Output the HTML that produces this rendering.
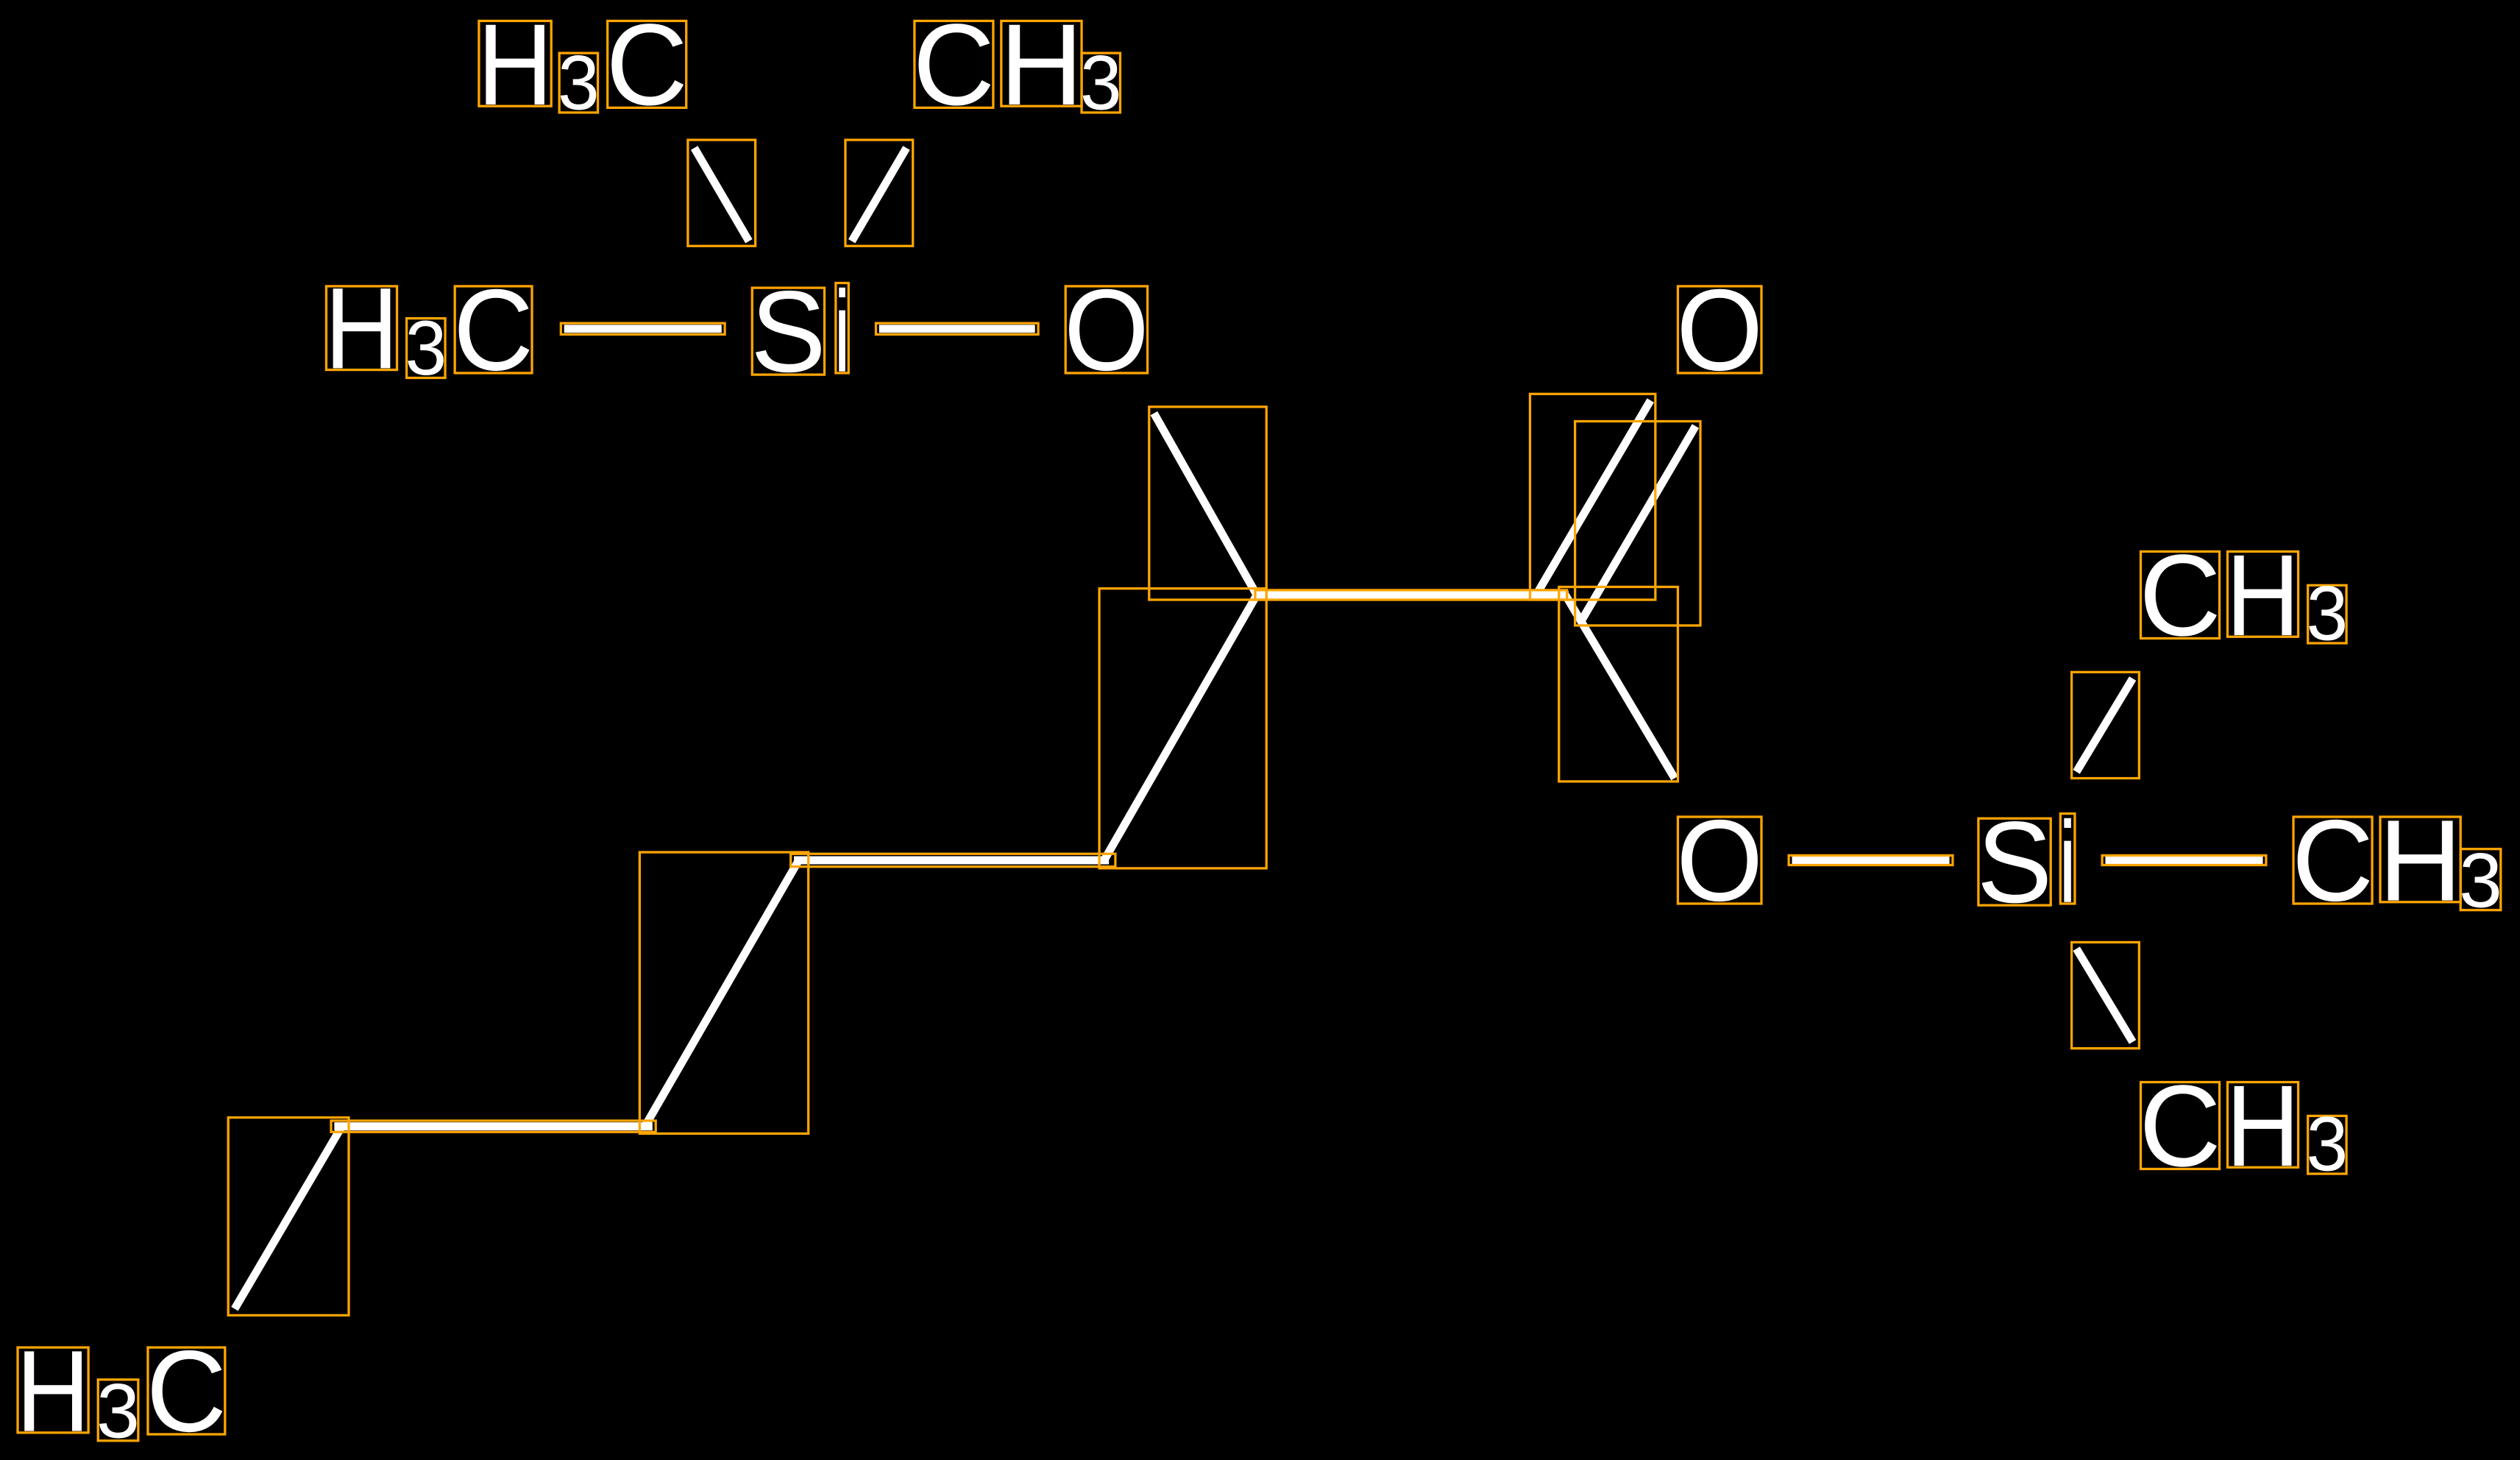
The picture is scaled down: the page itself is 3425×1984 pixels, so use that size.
<!DOCTYPE html>
<html><head><style>html,body{margin:0;padding:0;background:#000;}svg{display:block}</style></head>
<body>
<svg width="3425" height="1984" viewBox="0 0 1568 908" preserveAspectRatio="none" xmlns="http://www.w3.org/2000/svg">
<rect width="1568" height="908" fill="#000"/>
<g stroke="#fff" stroke-width="5" stroke-linecap="butt" fill="none">
<line x1="432" y1="92" x2="466" y2="150"/>
<line x1="564" y1="92" x2="530" y2="150"/>
<line x1="351" y1="204.5" x2="449" y2="204.5"/>
<line x1="547" y1="204.5" x2="644" y2="204.5"/>
<line x1="718" y1="257" x2="782" y2="370"/>
<line x1="782" y1="370" x2="687" y2="535"/>
<line x1="780" y1="370" x2="976" y2="370"/>
<line x1="957" y1="368" x2="1027" y2="249"/>
<line x1="984" y1="386" x2="1055" y2="265"/>
<line x1="974" y1="370" x2="1042" y2="484"/>
<line x1="494" y1="535" x2="690" y2="535"/>
<line x1="401" y1="701" x2="497" y2="535"/>
<line x1="208" y1="700.5" x2="406" y2="700.5"/>
<line x1="146" y1="814" x2="213" y2="700"/>
<line x1="1327" y1="422" x2="1292" y2="480"/>
<line x1="1115" y1="535" x2="1213" y2="535"/>
<line x1="1310" y1="535" x2="1408" y2="535"/>
<line x1="1292" y1="590" x2="1327" y2="648"/>
</g>
<g stroke="#ffa500" stroke-width="1.5" fill="none">
<rect x="298" y="13" width="45" height="53"/><rect x="348" y="33" width="24" height="37"/><rect x="378" y="13" width="49" height="54"/>
<rect x="569" y="13" width="49" height="54"/><rect x="623" y="13" width="50" height="53"/><rect x="673" y="33" width="24" height="37"/>
<rect x="428" y="87" width="42" height="66"/><rect x="526" y="87" width="42" height="66"/>
<rect x="203" y="178" width="44" height="52"/><rect x="253" y="198" width="24" height="37"/><rect x="283" y="178" width="48" height="54"/>
<rect x="349" y="201" width="102" height="7"/>
<rect x="468" y="179" width="45" height="54"/><rect x="520" y="176" width="8" height="56"/>
<rect x="545" y="201" width="101" height="7"/>
<rect x="663" y="178" width="51" height="54"/>
<rect x="1044" y="178" width="52" height="54"/>
<rect x="715" y="253" width="73" height="120"/>
<rect x="684" y="366" width="104" height="174"/>
<rect x="781" y="367" width="194" height="6"/>
<rect x="952" y="245" width="78" height="128"/>
<rect x="980" y="262" width="78" height="127"/>
<rect x="970" y="365" width="74" height="121"/>
<rect x="492" y="531" width="202" height="8"/>
<rect x="398" y="530" width="105" height="175"/>
<rect x="206" y="697" width="202" height="7"/>
<rect x="142" y="695" width="75" height="123"/>
<rect x="11" y="838" width="44" height="53"/><rect x="61" y="858" width="25" height="38"/><rect x="92" y="838" width="48" height="54"/>
<rect x="1332" y="343" width="49" height="54"/><rect x="1386" y="343" width="44" height="53"/><rect x="1436" y="364" width="24" height="36"/>
<rect x="1289" y="418" width="42" height="66"/>
<rect x="1044" y="508" width="52" height="54"/>
<rect x="1113" y="532" width="102" height="6"/>
<rect x="1231" y="509" width="45" height="54"/><rect x="1282" y="506" width="9" height="56"/>
<rect x="1308" y="532" width="102" height="6"/>
<rect x="1427" y="508" width="49" height="54"/><rect x="1481" y="508" width="50" height="53"/><rect x="1531" y="528" width="25" height="38"/>
<rect x="1289" y="586" width="42" height="66"/>
<rect x="1332" y="673" width="49" height="54"/><rect x="1386" y="673" width="44" height="53"/><rect x="1436" y="694" width="24" height="36"/>
</g>
<g fill="#fff" font-family="Liberation Sans, Arial, sans-serif" font-size="72">
<text x="297" y="65" textLength="47" lengthAdjust="spacingAndGlyphs">H</text>
<text x="347" y="68" font-size="48" textLength="26" lengthAdjust="spacingAndGlyphs">3</text>
<text x="377" y="65" textLength="51" lengthAdjust="spacingAndGlyphs">C</text>
<text x="568" y="65" textLength="51" lengthAdjust="spacingAndGlyphs">C</text>
<text x="622" y="65" textLength="52" lengthAdjust="spacingAndGlyphs">H</text>
<text x="672" y="68" font-size="48" textLength="26" lengthAdjust="spacingAndGlyphs">3</text>
<text x="202" y="229" textLength="46" lengthAdjust="spacingAndGlyphs">H</text>
<text x="252" y="233" font-size="48" textLength="26" lengthAdjust="spacingAndGlyphs">3</text>
<text x="282" y="230" textLength="50" lengthAdjust="spacingAndGlyphs">C</text>
<text x="467" y="231" textLength="47" lengthAdjust="spacingAndGlyphs">S</text>
<text x="519" y="231" textLength="10" lengthAdjust="spacingAndGlyphs">i</text>
<text x="662" y="230" textLength="53" lengthAdjust="spacingAndGlyphs">O</text>
<text x="1043" y="230" textLength="54" lengthAdjust="spacingAndGlyphs">O</text>
<text x="10" y="890" textLength="46" lengthAdjust="spacingAndGlyphs">H</text>
<text x="60" y="894" font-size="48" textLength="27" lengthAdjust="spacingAndGlyphs">3</text>
<text x="91" y="890" textLength="50" lengthAdjust="spacingAndGlyphs">C</text>
<text x="1331" y="395" textLength="51" lengthAdjust="spacingAndGlyphs">C</text>
<text x="1385" y="395" textLength="46" lengthAdjust="spacingAndGlyphs">H</text>
<text x="1435" y="398" font-size="48" textLength="26" lengthAdjust="spacingAndGlyphs">3</text>
<text x="1043" y="560" textLength="54" lengthAdjust="spacingAndGlyphs">O</text>
<text x="1230" y="561" textLength="47" lengthAdjust="spacingAndGlyphs">S</text>
<text x="1281" y="561" textLength="11" lengthAdjust="spacingAndGlyphs">i</text>
<text x="1426" y="560" textLength="51" lengthAdjust="spacingAndGlyphs">C</text>
<text x="1480" y="560" textLength="52" lengthAdjust="spacingAndGlyphs">H</text>
<text x="1530" y="564" font-size="48" textLength="27" lengthAdjust="spacingAndGlyphs">3</text>
<text x="1331" y="725" textLength="51" lengthAdjust="spacingAndGlyphs">C</text>
<text x="1385" y="725" textLength="46" lengthAdjust="spacingAndGlyphs">H</text>
<text x="1435" y="728" font-size="48" textLength="26" lengthAdjust="spacingAndGlyphs">3</text>
</g>
</svg>
</body></html>
